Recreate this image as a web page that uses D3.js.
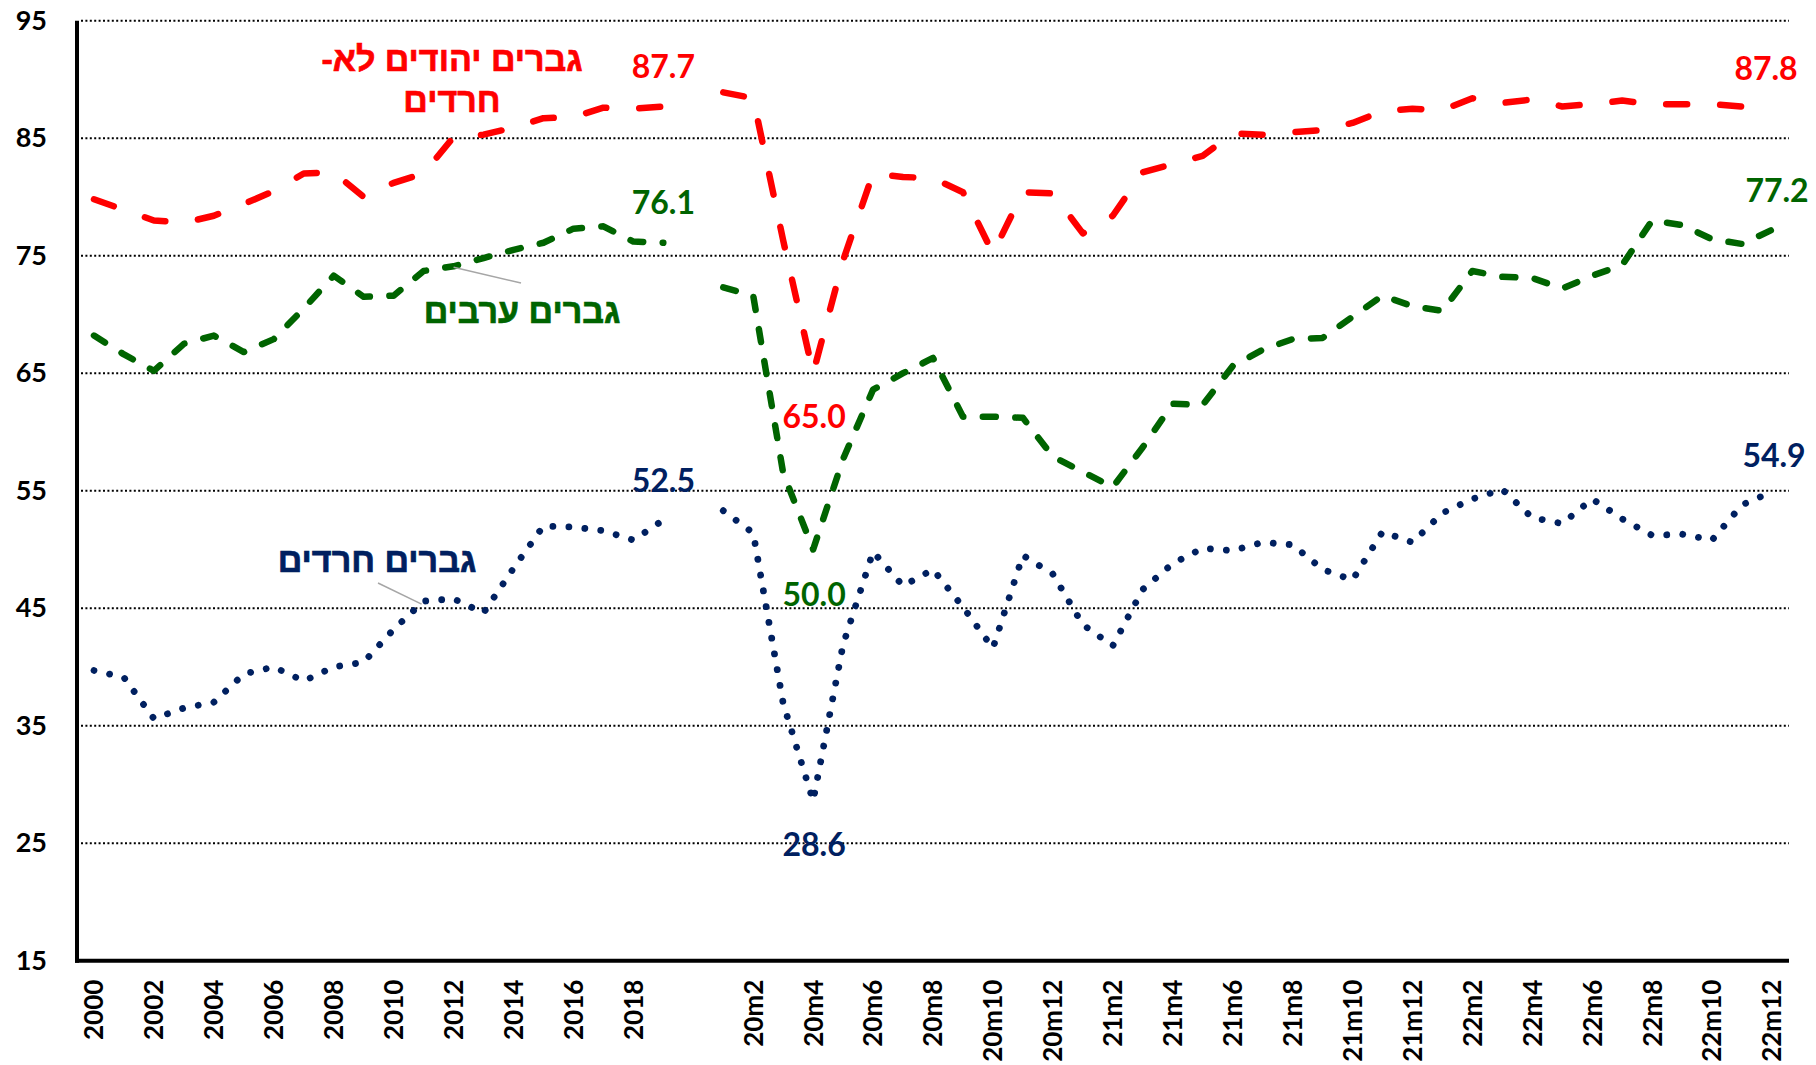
<!DOCTYPE html>
<html>
<head>
<meta charset="utf-8">
<title>Employment rate - men, by population group</title>
<style>
  body { margin: 0; background: #fff; }
  text { font-family: Lato, "Open Sans", sans-serif; font-weight: bold; }
  .heb { font-family: "Liberation Sans", "Open Sans", "DejaVu Sans", sans-serif; }
</style>
</head>
<body>
<script src="https://cdn.jsdelivr.net/npm/d3@7"></script>
<script>
// categories: annual 2000-2019, one empty slot, then monthly 2020-2022
var years = ["2000","2001","2002","2003","2004","2005","2006","2007","2008","2009",
  "2010","2011","2012","2013","2014","2015","2016","2017","2018","2019"];
var months = ["20m1","20m2","20m3","20m4","20m5","20m6","20m7","20m8","20m9","20m10","20m11","20m12",
  "21m1","21m2","21m3","21m4","21m5","21m6","21m7","21m8","21m9","21m10","21m11","21m12",
  "22m1","22m2","22m3","22m4","22m5","22m6","22m7","22m8","22m9","22m10","22m11","22m12"];
var categories = years.concat([""], months);

var tickLabels = ["2000","2002","2004","2006","2008","2010","2012","2014","2016","2018",
  "20m2","20m4","20m6","20m8","20m10","20m12","21m2","21m4","21m6","21m8","21m10","21m12",
  "22m2","22m4","22m6","22m8","22m10","22m12"];
var yTicks = [15, 25, 35, 45, 55, 65, 75, 85, 95];

// non-haredi jewish men
var jewishAnnual = [79.8, 78.9, 78.0, 77.8, 78.4, 79.4, 80.5, 82.0, 82.1, 80.0,
  81.2, 82.0, 85.1, 85.3, 85.9, 86.7, 86.8, 87.6, 87.5, 87.7];
var jewishMonthly = [88.9, 88.4, 76.3, 65.0, 74.6, 82.0, 81.7, 81.6, 80.4, 75.2, 80.4, 80.3,
  76.9, 78.4, 82.1, 82.8, 83.5, 85.4, 85.3, 85.5, 85.7, 86.3, 87.3, 87.5,
  87.4, 88.4, 88.0, 88.3, 87.7, 87.9, 88.2, 87.9, 87.9, 87.9, 87.7, 87.8];

// arab men
var arabAnnual = [68.2, 66.6, 65.2, 67.5, 68.2, 66.8, 67.9, 70.5, 73.3, 71.5,
  71.6, 73.7, 74.1, 74.8, 75.5, 76.1, 77.3, 77.5, 76.2, 76.1];
var arabMonthly = [72.3, 71.6, 56.5, 50.0, 57.7, 63.6, 65.0, 66.3, 61.3, 61.3, 61.2, 57.9,
  56.6, 55.3, 58.7, 62.4, 62.3, 65.6, 67.0, 67.9, 68.0, 69.8, 71.6, 70.7,
  70.3, 73.7, 73.2, 73.1, 72.2, 73.3, 74.2, 78.0, 77.6, 76.4, 76.0, 77.2];

// haredi men
var harediAnnual = [39.7, 39.1, 35.6, 36.5, 37.0, 39.4, 40.0, 38.8, 40.0, 40.4,
  43.2, 45.6, 45.8, 44.6, 48.4, 52.0, 51.9, 51.6, 50.8, 52.5];
var harediMonthly = [53.3, 51.4, 36.9, 28.6, 41.9, 49.8, 46.9, 48.3, 45.1, 41.6, 49.5, 47.9,
  43.6, 41.8, 46.6, 48.8, 50.1, 49.9, 50.6, 50.4, 48.3, 47.4, 51.5, 50.6,
  53.1, 54.3, 55.1, 52.7, 52.2, 54.3, 52.6, 51.2, 51.3, 50.8, 53.8, 54.9];

var series = [
  {name: "jewish", color: "#ff0000", width: 6.5, dash: "21,33",
    values: jewishAnnual.concat([null], jewishMonthly)},
  {name: "arab", color: "#006400", width: 6.5, dash: "13,19.5",
    values: arabAnnual.concat([null], arabMonthly)},
  {name: "haredi", color: "#002060", width: 6.8, dash: "0.01,16",
    values: harediAnnual.concat([null], harediMonthly)}
];

// value labels: which series, which category, where to put the text
var valueLabels = [
  {s: 0, cat: "2019", dx: 0, dy: -40},
  {s: 1, cat: "2019", dx: 0, dy: -40},
  {s: 2, cat: "2019", dx: 0, dy: -40},
  {s: 0, cat: "20m4", dx: 1, dy: 43},
  {s: 1, cat: "20m4", dx: 1, dy: 45},
  {s: 2, cat: "20m4", dx: 1, dy: 44},
  {s: 0, cat: "22m12", dx: -6, dy: -37},
  {s: 1, cat: "22m12", dx: 5, dy: -39},
  {s: 2, cat: "22m12", dx: 2, dy: -36}
];

var width = 1816, height = 1065;
var plotLeft = 79, plotRight = 1787, plotTop = 20.7, plotBottom = 960.7;

var x = d3.scaleBand().domain(categories).range([plotLeft, plotRight]);
var cx = function(c) { return x(c) + x.bandwidth() / 2; };
var y = d3.scaleLinear().domain([15, 95]).range([plotBottom, plotTop]);

var svg = d3.select("body").append("svg")
    .attr("width", width)
    .attr("height", height);

// dotted gridlines
svg.append("g").selectAll("line")
    .data(yTicks.filter(d => d > 15))
  .enter().append("line")
    .attr("x1", plotLeft + 2)
    .attr("x2", 1789)
    .attr("y1", d => y(d))
    .attr("y2", d => y(d))
    .attr("stroke", "#000")
    .attr("stroke-width", 2)
    .attr("stroke-dasharray", "2,2.4");

// y axis
var yAxis = d3.axisLeft(y).tickValues(yTicks).tickSize(0).tickPadding(30);
var gy = svg.append("g")
    .attr("transform", "translate(" + (plotLeft - 2) + ",0)")
    .call(yAxis);
gy.select(".domain").remove();
gy.selectAll("text")
    .attr("font-size", 27)
    .attr("fill", "#000")
    .style("font-family", "Lato, sans-serif");

svg.append("line")
    .attr("x1", plotLeft - 2).attr("x2", plotLeft - 2)
    .attr("y1", y(95)).attr("y2", y(15) + 2)
    .attr("stroke", "#000").attr("stroke-width", 4);

// x axis
svg.append("line")
    .attr("x1", plotLeft - 4).attr("x2", 1789)
    .attr("y1", y(15)).attr("y2", y(15))
    .attr("stroke", "#000").attr("stroke-width", 4);

svg.append("g").selectAll("text")
    .data(tickLabels)
  .enter().append("text")
    .attr("transform", d => "translate(" + cx(d) + "," + (y(15) + 19) + ") rotate(-90)")
    .attr("text-anchor", "end")
    .attr("dy", "0.36em")
    .attr("font-size", 26)
    .text(d => d);

// lines
var line = d3.line()
    .defined(d => d.v != null)
    .x(d => cx(d.c))
    .y(d => y(d.v));

series.forEach(function(s) {
  var pts = categories.map((c, i) => ({c: c, v: s.values[i]}));
  svg.append("path")
      .datum(pts)
      .attr("d", line)
      .attr("fill", "none")
      .attr("stroke", s.color)
      .attr("stroke-width", s.width)
      .attr("stroke-linecap", "round")
      .attr("stroke-linejoin", "round")
      .attr("stroke-dasharray", s.dash);
});

// value labels
svg.append("g").selectAll("text")
    .data(valueLabels)
  .enter().append("text")
    .attr("x", d => cx(d.cat) + d.dx)
    .attr("y", d => y(series[d.s].values[categories.indexOf(d.cat)]) + d.dy)
    .attr("dy", "0.36em")
    .attr("text-anchor", "middle")
    .attr("font-size", 32)
    .attr("fill", d => series[d.s].color)
    .text(d => series[d.s].values[categories.indexOf(d.cat)].toFixed(1));

// series names with leader lines
function seriesName(lines, color, px, py) {
  var t = svg.append("text")
      .attr("class", "heb")
      .attr("direction", "rtl")
      .style("direction", "rtl")
      .attr("text-anchor", "middle")
      .attr("font-size", 34)
      .attr("fill", color)
      .attr("stroke", color)
      .attr("stroke-width", 0.7);
  lines.forEach(function(l, i) {
    t.append("tspan")
        .attr("x", px)
        .attr("y", py + i * 41)
        .attr("dy", "0.36em")
        .text(l);
  });
}

seriesName(["גברים יהודים לא-", "חרדים"], "#ff0000", 452, 59);
seriesName(["גברים ערבים"], "#006400", 522, 311);
seriesName(["גברים חרדים"], "#002060", 377, 560);

svg.append("line")
    .attr("x1", 521).attr("y1", 283)
    .attr("x2", cx("2012")).attr("y2", y(arabAnnual[12]) + 1)
    .attr("stroke", "#a6a6a6").attr("stroke-width", 1.5);

svg.append("line")
    .attr("x1", 378).attr("y1", 583)
    .attr("x2", cx("2011") - 2).attr("y2", y(harediAnnual[11]) + 3)
    .attr("stroke", "#a6a6a6").attr("stroke-width", 1.5);
</script>
</body>
</html>
